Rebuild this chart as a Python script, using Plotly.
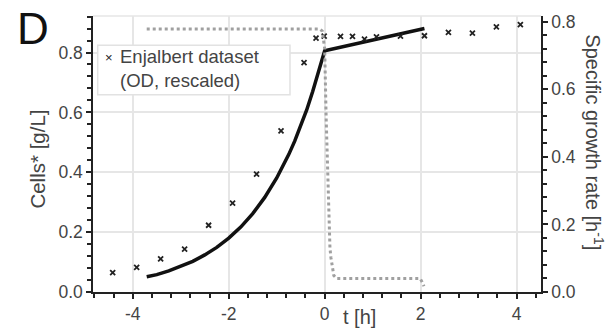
import plotly.graph_objects as go

# Enjalbert OD measurements (rescaled to cell concentration)
od_t = [-4.42, -3.92, -3.42, -2.92, -2.42, -1.92, -1.42, -0.91, -0.43, -0.18,
        -0.01, 0.33, 0.58, 0.83, 1.08, 1.58, 2.08, 2.58, 3.08, 3.58, 4.08]
od_cells = [0.065, 0.082, 0.111, 0.143, 0.223, 0.297, 0.394, 0.538, 0.766, 0.848,
            0.855, 0.854, 0.854, 0.845, 0.852, 0.855, 0.856, 0.867, 0.865, 0.886, 0.893]

# Simulated biomass
sim_t = [-3.71, -3.5, -3.25, -3.0, -2.75, -2.5, -2.25, -2.0, -1.75, -1.5, -1.25,
         -1.0, -0.875, -0.75, -0.625, -0.5, -0.375, -0.25, -0.125, 0.0, 2.08]
sim_cells = [0.051, 0.058, 0.0705, 0.085, 0.1025, 0.124, 0.149, 0.180, 0.217, 0.262, 0.316,
             0.381, 0.418, 0.459, 0.504, 0.554, 0.608, 0.670, 0.734, 0.806, 0.880]

# Simulated specific growth rate
mu_t = [-3.71, -0.1, -0.05, 0.0, 0.03, 0.06, 0.09, 0.11, 0.13, 0.16, 0.19, 0.25,
        1.99, 2.03, 2.07]
mu = [0.778, 0.778, 0.772, 0.72, 0.52, 0.36, 0.18, 0.131, 0.102, 0.068, 0.049, 0.040,
      0.040, 0.030, 0.017]

x_tickvals = [-4, -2, 0, 2, 4]
x_ticktext = ["-4", "-2", "0", "2", "4"]

legend_text = "Enjalbert dataset<br>(OD, rescaled)"

FONT = "Liberation Sans, Arial, Helvetica, sans-serif"
TEXT = "#444444"
AXIS = "#222222"
GRID = "#e6e6e6"

fig = go.Figure()

fig.add_trace(go.Scatter(
    x=sim_t, y=sim_cells, mode="lines",
    line=dict(color="#111111", width=3.5),
    showlegend=False,
))
fig.add_trace(go.Scatter(
    x=mu_t, y=mu, mode="lines", yaxis="y2",
    line=dict(color="#a0a0a0", width=3, dash="dot"),
    showlegend=False,
))
fig.add_trace(go.Scatter(
    x=od_t, y=od_cells, mode="markers",
    marker=dict(symbol="x-thin", size=5, line=dict(color="#222222", width=1.8)),
    showlegend=False,
))

axis_common = dict(
    ticks="outside", ticklen=5, tickwidth=1.5, tickcolor=AXIS,
    showline=True, linecolor=AXIS, linewidth=1.5,
    zeroline=False,
    tickfont=dict(family=FONT, size=17.5, color=TEXT),
)

fig.update_layout(
    width=616, height=336,
    margin=dict(l=93, r=75, t=16, b=37),
    paper_bgcolor="white", plot_bgcolor="white",
    font=dict(family=FONT, size=17.5, color=TEXT),
    showlegend=False,
    xaxis=dict(
        range=[-4.83, 4.51], tickvals=x_tickvals, ticktext=x_ticktext,
        showgrid=True, gridcolor=GRID, gridwidth=1.5,
        minor=dict(dtick=0.4, tick0=0, ticks="outside", ticklen=4, tickcolor=AXIS, showgrid=False),
        **axis_common,
    ),
    yaxis=dict(
        range=[0, 0.922], dtick=0.2, tickformat=".1f",
        showgrid=True, gridcolor=GRID, gridwidth=1.5,
        minor=dict(dtick=0.04, tick0=0, ticks="outside", ticklen=4, tickcolor=AXIS, showgrid=False),
        **axis_common,
    ),
    yaxis2=dict(
        range=[0, 0.8165], dtick=0.2, tickformat=".1f",
        overlaying="y", side="right", showgrid=False,
        minor=dict(dtick=0.04, tick0=0, ticks="outside", ticklen=4, tickcolor=AXIS, showgrid=False),
        **axis_common,
    ),
    shapes=[
        # light frame along the top of the plot area
        dict(type="line", xref="paper", yref="paper", x0=0, x1=1, y0=1, y1=1,
             line=dict(color=GRID, width=1.5), layer="below"),
        # legend box
        dict(type="rect", xref="paper", yref="paper", x0=0.0105, x1=0.4397,
             y0=0.7145, y1=0.894, fillcolor="white",
             line=dict(color="#e2e2e2", width=1.5), layer="above"),
    ],
    annotations=[
        dict(text="D", xref="paper", yref="paper", x=-0.175, y=1.05,
             xanchor="left", yanchor="top", showarrow=False,
             font=dict(family=FONT, size=44, color="#111111")),
        # legend key and label
        dict(text="×", xref="paper", yref="paper", x=0.0357, y=0.851,
             xanchor="center", yanchor="middle", showarrow=False,
             font=dict(family=FONT, size=13, color="#222222")),
        dict(text=legend_text, xref="paper", yref="paper", x=0.0558, y=0.809,
             xanchor="left", yanchor="middle", align="left", showarrow=False,
             font=dict(family=FONT, size=18.5, color=TEXT)),
        dict(text="Cells* [g/L]", xref="paper", yref="paper", x=-0.123, y=0.483,
             xanchor="center", yanchor="middle", textangle=-90, showarrow=False,
             font=dict(family=FONT, size=20.5, color=TEXT)),
        dict(text="t [h]", xref="paper", yref="paper", x=0.594, y=-0.09,
             xanchor="center", yanchor="middle", showarrow=False,
             font=dict(family=FONT, size=20, color=TEXT)),
        dict(text="Specific growth rate [h<sup>-1</sup>]", xref="paper", yref="paper",
             x=1.12, y=0.543, xanchor="center", yanchor="middle", textangle=90,
             showarrow=False, font=dict(family=FONT, size=20, color=TEXT)),
    ],
)

fig.write_html("out.html")
